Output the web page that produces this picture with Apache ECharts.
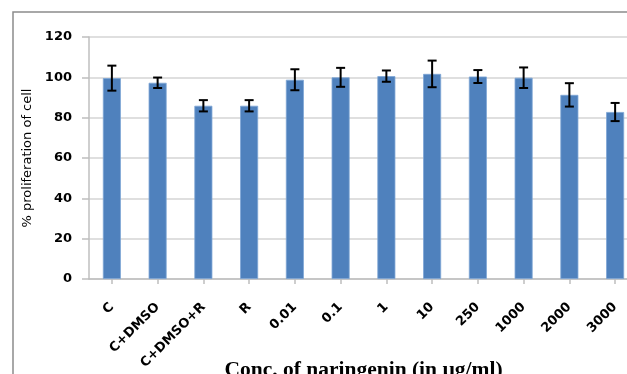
<!DOCTYPE html>
<html>
<head>
<meta charset="utf-8">
<script src="https://cdn.jsdelivr.net/npm/echarts@6/dist/echarts.min.js"></script>
<style>html,body{margin:0;padding:0;background:#fff;}#chart{width:627px;height:374px;}</style>
</head>
<body>
<div id="chart"></div>
<script>
const categories = ['C','C+DMSO','C+DMSO+R','R','0.01','0.1','1','10','250','1000','2000','3000'];
const means = [99.6, 97.3, 85.9, 85.9, 98.8, 100.0, 100.6, 101.7, 100.4, 99.8, 91.3, 82.8];
const errors = [6.2, 2.6, 2.8, 2.8, 5.2, 4.7, 2.8, 6.6, 3.2, 5.1, 5.8, 4.5];
const yTicks = {min: 0, max: 120, interval: 20};

const chart = echarts.init(document.getElementById('chart'));
const errData = categories.map((c, i) => [i, means[i] - errors[i], means[i] + errors[i]]);

chart.setOption({
  animation: false,
  graphic: [{
    type: 'rect', z: 0, silent: true,
    shape: {x: 13, y: 12, width: 700, height: 420},
    style: {fill: 'none', stroke: '#8c8c8c', lineWidth: 1.5}
  }],
  grid: {left: 89, right: -11, top: 37, bottom: 95, containLabel: false, outerBoundsMode: 'none'},
  xAxis: {
    type: 'category',
    data: categories,
    axisLine: {show: true, lineStyle: {color: '#bfbfbf', width: 1.5}},
    axisTick: {show: true, alignWithLabel: true, length: 5, lineStyle: {color: '#bfbfbf', width: 1.5}},
    axisLabel: {rotate: 45, margin: 26, interval: 0, fontFamily: 'DejaVu Sans', fontWeight: 'bold', fontSize: 13, color: '#000'},
    name: 'Conc. of naringenin (in µg/ml)',
    nameLocation: 'middle',
    nameGap: 80,
    nameMoveOverlap: false,
    nameTextStyle: {fontFamily: 'Liberation Serif', fontWeight: 'bold', fontSize: 21.5, color: '#000'}
  },
  yAxis: {
    type: 'value',
    min: yTicks.min, max: yTicks.max, interval: yTicks.interval,
    axisLine: {show: true, lineStyle: {color: '#bfbfbf', width: 1.5}},
    axisTick: {show: true, length: 7, lineStyle: {color: '#bfbfbf', width: 1.5}},
    splitLine: {lineStyle: {color: '#d4d4d4', width: 1.5}},
    axisLabel: {margin: 17, fontFamily: 'DejaVu Sans', fontWeight: 'bold', fontSize: 13, color: '#000'},
    name: '% proliferation of cell',
    nameLocation: 'middle',
    nameGap: 55,
    nameMoveOverlap: false,
    nameTextStyle: {fontFamily: 'DejaVu Sans', fontSize: 13, color: '#000'}
  },
  series: [{
    type: 'bar',
    data: means,
    barWidth: 18,
    itemStyle: {color: '#4f81bd', borderColor: '#7ea6d6', borderWidth: 0.8},
    z: 2
  }, {
    type: 'custom',
    data: errData,
    z: 5,
    renderItem: function (params, api) {
      const x = api.value(0);
      const lo = api.coord([x, api.value(1)]);
      const hi = api.coord([x, api.value(2)]);
      const hw = 4.5;
      const st = {stroke: '#000', lineWidth: 2};
      return {
        type: 'group',
        children: [
          {type: 'line', shape: {x1: hi[0], y1: hi[1], x2: lo[0], y2: lo[1]}, style: st},
          {type: 'line', shape: {x1: hi[0] - hw, y1: hi[1], x2: hi[0] + hw, y2: hi[1]}, style: st},
          {type: 'line', shape: {x1: lo[0] - hw, y1: lo[1], x2: lo[0] + hw, y2: lo[1]}, style: st}
        ]
      };
    }
  }]
});
</script>
</body>
</html>
